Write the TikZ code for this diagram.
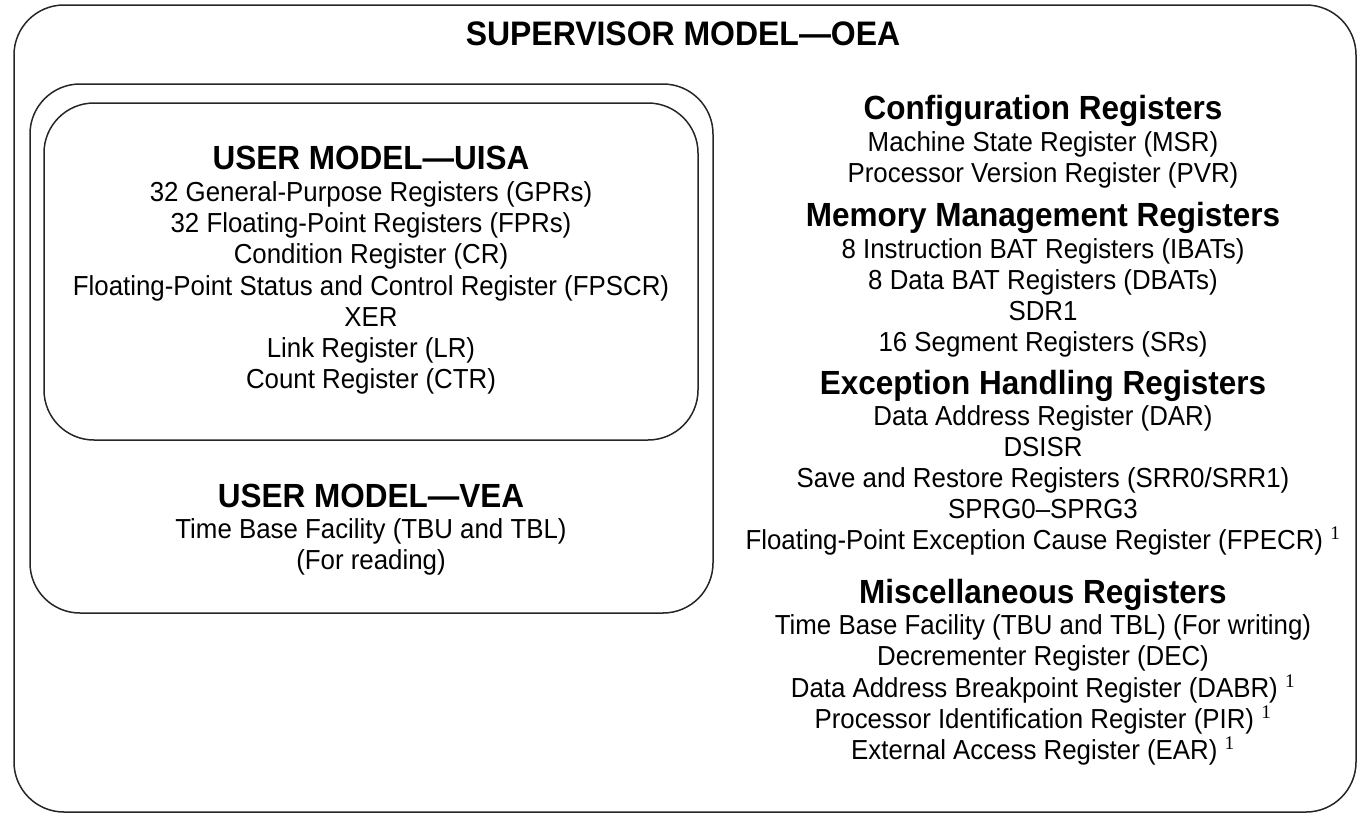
\documentclass[tikz,border=0pt]{standalone}
\usepackage{fontspec}
\setmainfont{Liberation Sans}[FakeStretch=0.94]
\newfontfamily\notefont{Liberation Serif}
\usepackage{tikz}
\usetikzlibrary{positioning}
\newcommand{\regnote}{\textsuperscript{\notefont 1}}

\begin{document}
\begin{tikzpicture}[
  x=1pt, y=-1pt,
  model/.style={draw=black!85, line width=1.5pt, rounded corners=50pt},
  heading/.style={font=\fontsize{33.5}{36}\selectfont\bfseries, anchor=base},
  reg/.style={font=\fontsize{27.5}{31}\selectfont, anchor=base}
]
  \useasboundingbox (0,0) rectangle (1358,815);

  % Model boxes
  \draw[model] (14,5) rectangle (1356,812);
  \draw[model] (30,84) rectangle (713,613);
  \draw[model] (44,103) rectangle (698,440);

  % User level (left)
  \node[heading] (uisa) at (371,169) {USER MODEL—UISA};
  \foreach \y/\t [count=\i] in {
      201/{32 General-Purpose Registers (GPRs)},
      232/{32 Floating-Point Registers (FPRs)},
      263/{Condition Register (CR)},
      295/{Floating-Point Status and Control Register (FPSCR)},
      326/{XER},
      357/{Link Register (LR)},
      388/{Count Register (CTR)}} {
    \node[reg] (uisa\i) at (371,\y) {\t};
  }

  \node[heading] (vea) at (371,507) {USER MODEL—VEA};
  \node[reg] (vea1) at (371,538) {Time Base Facility (TBU and TBL)};
  \node[reg] (vea2) at (371,569) {(For reading)};

  % Supervisor level (right)
  \node[heading, font=\fontsize{34}{36}\selectfont\bfseries] (oea) at (683,45) {SUPERVISOR MODEL—OEA};

  \node[heading] (config) at (1043,119) {Configuration Registers};
  \foreach \y/\t [count=\i] in {
      151/{Machine State Register (MSR)},
      182/{Processor Version Register (PVR)}} {
    \node[reg] (config\i) at (1043,\y) {\t};
  }

  \node[heading] (memory) at (1043,226) {Memory Management Registers};
  \foreach \y/\t [count=\i] in {
      258/{8 Instruction BAT Registers (IBATs)},
      289/{8 Data BAT Registers (DBATs)},
      320/{SDR1},
      351/{16 Segment Registers (SRs)}} {
    \node[reg] (memory\i) at (1043,\y) {\t};
  }

  \node[heading] (except) at (1043,394) {Exception Handling Registers};
  \foreach \y/\t [count=\i] in {
      425/{Data Address Register (DAR)},
      456/{DSISR},
      487/{Save and Restore Registers (SRR0/SRR1)},
      518/{SPRG0–SPRG3},
      549/{Floating-Point Exception Cause Register (FPECR) \regnote}} {
    \node[reg] (except\i) at (1043,\y) {\t};
  }

  \node[heading] (misc) at (1043,603) {Miscellaneous Registers};
  \foreach \y/\t [count=\i] in {
      634/{Time Base Facility (TBU and TBL) (For writing)},
      665/{Decrementer Register (DEC)},
      697/{Data Address Breakpoint Register (DABR) \regnote},
      728/{Processor Identification Register (PIR) \regnote},
      759/{External Access Register (EAR) \regnote}} {
    \node[reg] (misc\i) at (1043,\y) {\t};
  }
\end{tikzpicture}
\end{document}
